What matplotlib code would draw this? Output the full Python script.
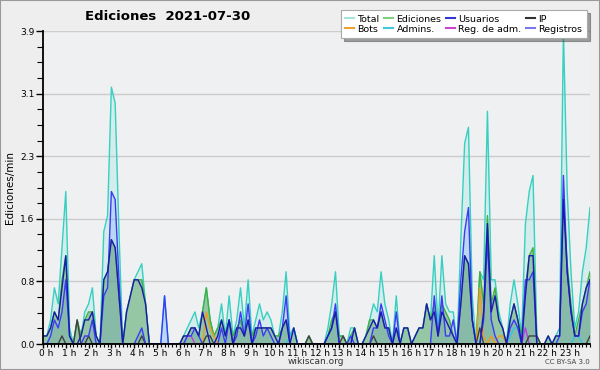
import numpy as np
import matplotlib.pyplot as plt
import matplotlib.transforms as mtransforms
from matplotlib.lines import Line2D
from matplotlib.patches import Rectangle

# edits per minute, one value every 10 minutes (00:00 .. 24:00)
total = [0.1, 0.1, 0.3, 0.7, 0.5, 1.2, 1.9, 0.2, 0.0, 0.3, 0.1, 0.4,
         0.5, 0.7, 0.1, 0.0, 1.4, 1.6, 3.2, 3.0, 1.4, 0.0, 0.4, 0.6,
         0.8, 0.9, 1.0, 0.5, 0.0, 0.0, 0.0, 0.0, 0.6, 0.0, 0.0, 0.0,
         0.0, 0.1, 0.2, 0.3, 0.4, 0.2, 0.4, 0.7, 0.3, 0.1, 0.2, 0.5,
         0.1, 0.6, 0.1, 0.3, 0.7, 0.2, 0.8, 0.1, 0.3, 0.5, 0.3, 0.4,
         0.3, 0.1, 0.1, 0.4, 0.9, 0.1, 0.2, 0.0, 0.0, 0.0, 0.1, 0.0,
         0.0, 0.0, 0.0, 0.2, 0.5, 0.9, 0.1, 0.1, 0.0, 0.2, 0.2, 0.0,
         0.0, 0.1, 0.3, 0.5, 0.4, 0.9, 0.5, 0.3, 0.0, 0.6, 0.0, 0.2,
         0.2, 0.0, 0.1, 0.2, 0.2, 0.5, 0.3, 1.1, 0.2, 1.1, 0.5, 0.4,
         0.4, 0.0, 1.3, 2.5, 2.7, 0.6, 0.0, 0.9, 0.8, 2.9, 0.8, 0.8,
         0.4, 0.2, 0.0, 0.5, 0.8, 0.5, 0.1, 1.5, 1.9, 2.1, 0.1, 0.0,
         0.0, 0.1, 0.0, 0.1, 0.2, 3.9, 1.9, 0.9, 0.2, 0.4, 0.9, 1.2,
         1.7]
ediciones = [0.1, 0.1, 0.2, 0.4, 0.3, 0.8, 1.1, 0.1, 0.0, 0.3, 0.1, 0.3,
             0.4, 0.4, 0.1, 0.0, 0.8, 0.9, 1.3, 1.2, 0.6, 0.0, 0.4, 0.6,
             0.8, 0.8, 0.8, 0.5, 0.0, 0.0, 0.0, 0.0, 0.0, 0.0, 0.0, 0.0,
             0.0, 0.1, 0.1, 0.2, 0.2, 0.1, 0.4, 0.7, 0.3, 0.1, 0.2, 0.3,
             0.1, 0.3, 0.1, 0.2, 0.3, 0.1, 0.3, 0.1, 0.2, 0.2, 0.2, 0.2,
             0.2, 0.1, 0.1, 0.2, 0.3, 0.1, 0.2, 0.0, 0.0, 0.0, 0.1, 0.0,
             0.0, 0.0, 0.0, 0.1, 0.3, 0.4, 0.1, 0.1, 0.0, 0.1, 0.2, 0.0,
             0.0, 0.1, 0.3, 0.3, 0.2, 0.4, 0.2, 0.2, 0.0, 0.2, 0.0, 0.2,
             0.2, 0.0, 0.1, 0.2, 0.2, 0.5, 0.3, 0.5, 0.1, 0.5, 0.4, 0.3,
             0.1, 0.0, 0.5, 1.1, 1.0, 0.3, 0.0, 0.9, 0.5, 1.6, 0.5, 0.7,
             0.3, 0.2, 0.0, 0.3, 0.5, 0.3, 0.1, 0.7, 1.1, 1.2, 0.1, 0.0,
             0.0, 0.1, 0.0, 0.1, 0.1, 1.8, 1.0, 0.5, 0.1, 0.3, 0.5, 0.7,
             0.9]
usuarios = [0.1, 0.1, 0.2, 0.4, 0.3, 0.7, 1.1, 0.1, 0.0, 0.0, 0.1, 0.3,
            0.3, 0.4, 0.1, 0.0, 0.8, 0.9, 1.3, 1.2, 0.6, 0.0, 0.4, 0.6,
            0.8, 0.8, 0.7, 0.5, 0.0, 0.0, 0.0, 0.0, 0.0, 0.0, 0.0, 0.0,
            0.0, 0.1, 0.1, 0.2, 0.2, 0.1, 0.4, 0.2, 0.0, 0.0, 0.1, 0.3,
            0.1, 0.3, 0.0, 0.2, 0.2, 0.1, 0.3, 0.0, 0.2, 0.2, 0.2, 0.2,
            0.2, 0.1, 0.0, 0.2, 0.3, 0.0, 0.2, 0.0, 0.0, 0.0, 0.0, 0.0,
            0.0, 0.0, 0.0, 0.1, 0.2, 0.4, 0.0, 0.0, 0.0, 0.0, 0.2, 0.0,
            0.0, 0.1, 0.2, 0.3, 0.2, 0.4, 0.2, 0.2, 0.0, 0.2, 0.0, 0.2,
            0.2, 0.0, 0.1, 0.2, 0.2, 0.5, 0.3, 0.4, 0.1, 0.4, 0.3, 0.2,
            0.1, 0.0, 0.5, 1.1, 1.0, 0.3, 0.0, 0.0, 0.4, 1.5, 0.4, 0.6,
            0.3, 0.2, 0.0, 0.3, 0.5, 0.3, 0.0, 0.6, 1.1, 1.1, 0.0, 0.0,
            0.0, 0.1, 0.0, 0.1, 0.1, 1.8, 0.9, 0.4, 0.1, 0.1, 0.5, 0.7,
            0.8]
ip = [0.0, 0.0, 0.0, 0.0, 0.0, 0.1, 0.0, 0.0, 0.0, 0.3, 0.0, 0.0,
      0.1, 0.0, 0.0, 0.0, 0.0, 0.0, 0.0, 0.0, 0.0, 0.0, 0.0, 0.0,
      0.0, 0.0, 0.1, 0.0, 0.0, 0.0, 0.0, 0.0, 0.0, 0.0, 0.0, 0.0,
      0.0, 0.0, 0.0, 0.0, 0.0, 0.0, 0.0, 0.1, 0.1, 0.0, 0.0, 0.0,
      0.0, 0.0, 0.0, 0.0, 0.0, 0.0, 0.0, 0.0, 0.0, 0.0, 0.0, 0.0,
      0.0, 0.0, 0.0, 0.0, 0.0, 0.0, 0.0, 0.0, 0.0, 0.0, 0.1, 0.0,
      0.0, 0.0, 0.0, 0.0, 0.0, 0.0, 0.0, 0.1, 0.0, 0.0, 0.0, 0.0,
      0.0, 0.0, 0.0, 0.1, 0.0, 0.0, 0.0, 0.0, 0.0, 0.0, 0.0, 0.0,
      0.0, 0.0, 0.0, 0.0, 0.0, 0.0, 0.0, 0.0, 0.0, 0.0, 0.0, 0.0,
      0.0, 0.0, 0.0, 0.0, 0.0, 0.0, 0.0, 0.2, 0.0, 0.0, 0.0, 0.0,
      0.0, 0.0, 0.0, 0.0, 0.0, 0.0, 0.0, 0.0, 0.1, 0.1, 0.1, 0.0,
      0.0, 0.0, 0.0, 0.0, 0.0, 0.0, 0.0, 0.0, 0.0, 0.0, 0.0, 0.0,
      0.1]
registros = [0.0, 0.0, 0.1, 0.3, 0.2, 0.4, 0.8, 0.1, 0.0, 0.0, 0.0, 0.1,
             0.1, 0.3, 0.0, 0.0, 0.6, 0.7, 1.9, 1.8, 0.8, 0.0, 0.0, 0.0,
             0.0, 0.1, 0.2, 0.0, 0.0, 0.0, 0.0, 0.0, 0.6, 0.0, 0.0, 0.0,
             0.0, 0.0, 0.1, 0.1, 0.2, 0.1, 0.0, 0.0, 0.0, 0.0, 0.0, 0.2,
             0.0, 0.3, 0.0, 0.1, 0.4, 0.1, 0.5, 0.0, 0.1, 0.3, 0.1, 0.2,
             0.1, 0.0, 0.0, 0.2, 0.6, 0.0, 0.0, 0.0, 0.0, 0.0, 0.0, 0.0,
             0.0, 0.0, 0.0, 0.1, 0.2, 0.5, 0.0, 0.0, 0.0, 0.1, 0.0, 0.0,
             0.0, 0.0, 0.0, 0.2, 0.2, 0.5, 0.3, 0.1, 0.0, 0.4, 0.0, 0.0,
             0.0, 0.0, 0.0, 0.0, 0.0, 0.0, 0.0, 0.6, 0.1, 0.6, 0.1, 0.1,
             0.3, 0.0, 0.8, 1.4, 1.7, 0.3, 0.0, 0.0, 0.3, 1.3, 0.3, 0.1,
             0.0, 0.0, 0.0, 0.2, 0.3, 0.2, 0.0, 0.8, 0.8, 0.9, 0.0, 0.0,
             0.0, 0.0, 0.0, 0.0, 0.1, 2.1, 0.9, 0.4, 0.1, 0.1, 0.4, 0.5,
             0.8]
bots = [0.0] * 43 + [0.4, 0.2, 0.1] + [0.0] * 69 + [0.7, 0.1, 0.0, 0.1, 0.0, 0.1, 0.1] + [0.0] * 23
admins = [0.0] * 65 + [0.1, 0.2] + [0.0] * 56 + [0.1, 0.2, 0.2, 0.1, 0.2] + [0.0] * 12 + [0.1, 0.1] + [0.0] * 3
reg_adm = [0.0] * 38 + [0.1, 0.1] + [0.0] * 87 + [0.2] + [0.0] * 17

hour_labels = [f'{h} h' for h in range(24)]
ytick_vals = [0, 0.78, 1.56, 2.34, 3.12, 3.9]
ytick_labels = ['0.0', '0.8', '1.6', '2.3', '3.1', '3.9']

fig = plt.figure(figsize=(6, 3.7), dpi=100, facecolor='#eeeeee')
ax = fig.add_axes([43 / 600, 1 - 344 / 370, 547 / 600, 313 / 370])
ax.set_facecolor('#eff0f2')

x = np.arange(len(total))
ax.fill_between(x, total, color='#40d8c8', alpha=0.15, lw=0)
ax.fill_between(x, registros, color='#6a9cff', alpha=0.25, lw=0)
ax.fill_between(x, ediciones, color='#4a9a50', alpha=0.45, lw=0)
ax.plot(x, total, color='#36d0c0', lw=1)
ax.plot(x, ediciones, color='#40b040', lw=1)
ax.plot(x, bots, color='#f09a20', lw=1)
ax.plot(x, admins, color='#30c8e0', lw=1)
ax.plot(x, reg_adm, color='#c040d0', lw=1)
ax.plot(x, ip, color='#404040', lw=1)
ax.plot(x, registros, color='#3a3af8', lw=1)
ax.plot(x, usuarios, color='#1a1ab0', lw=1)

ax.set_xlim(0, 144)
ax.set_ylim(0, 3.9)
ax.set_xticks(range(0, 144, 6))
ax.set_xticklabels(hour_labels)
ax.set_xticks(range(0, 145), minor=True)
ax.set_yticks(ytick_vals)
ax.set_yticklabels(ytick_labels)
ax.set_yticks(np.arange(0, 3.95, 0.195), minor=True)
ax.grid(axis='y', which='major', color='#cccccc', lw=1)
ax.set_axisbelow(True)
for s in ['top', 'right']:
    ax.spines[s].set_visible(False)
for s in ['left', 'bottom']:
    ax.spines[s].set_linewidth(1.3)
ax.tick_params(axis='x', which='major', length=3, width=1, labelsize=6.5, pad=0.5)
ax.tick_params(axis='x', which='minor', length=2.5, width=0.8)
ax.tick_params(axis='y', which='major', length=5, width=1, labelsize=6.5, pad=1)
ax.tick_params(axis='y', which='minor', length=4, width=0.8)
shift = mtransforms.ScaledTranslation(3 / 100, 0, fig.dpi_scale_trans)
for lab in ax.get_xticklabels():
    lab.set_transform(lab.get_transform() + shift)

ax.set_ylabel('Ediciones/min', fontsize=7.5, labelpad=4)
fig.text(85 / 600, 1 - 17 / 370, 'Ediciones  2021-07-30', fontsize=9.5,
         fontweight='bold', ha='left', va='center')
fig.text(0.527, 1 - 362 / 370, 'wikiscan.org', fontsize=6.5, ha='center', va='center', color='#333333')
fig.text(590 / 600, 1 - 362 / 370, 'CC BY-SA 3.0', fontsize=5, ha='right', va='center', color='#444444')

handles = [Line2D([], [], color='#a0e4dc'), Line2D([], [], color='#f0a030'),
           Line2D([], [], color='#7fcf7f'), Line2D([], [], color='#40c8d8'),
           Line2D([], [], color='#3535d5'), Line2D([], [], color='#cc44cc'),
           Line2D([], [], color='#333333'), Line2D([], [], color='#7777ee')]
labels = ['Total', 'Bots', 'Ediciones', 'Admins.', 'Usuarios', 'Reg. de adm.', 'IP', 'Registros']
leg = fig.legend(handles, labels, loc='upper right', bbox_to_anchor=(0.978, 0.972), ncol=4,
                 fontsize=6.8, frameon=True, fancybox=False, shadow=True, edgecolor='#aaaaaa',
                 handlelength=0.9, handletextpad=0.4, columnspacing=0.5, labelspacing=0.1,
                 borderpad=0.45, borderaxespad=0)
leg.get_frame().set_linewidth(0.8)

fig.patches.append(Rectangle((0, 0), 1, 1, transform=fig.transFigure, fill=False,
                             ec='#999999', lw=1.5))

fig.savefig('out.png', dpi=100, facecolor=fig.get_facecolor())
